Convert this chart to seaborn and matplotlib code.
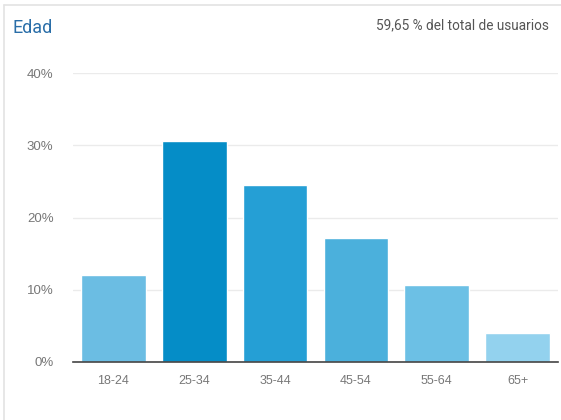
import matplotlib
matplotlib.use('Agg')
import matplotlib.pyplot as plt
import seaborn as sns
import pandas as pd
from matplotlib.lines import Line2D

# Datos: distribución por edad
edades = ['18-24', '25-34', '35-44', '45-54', '55-64', '65+']
porcentajes = [12.0, 30.6, 24.5, 17.2, 10.7, 4.0]
colores = ['#6bbde3', '#058dc7', '#259fd5', '#4bb0dc', '#6cc0e5', '#93d2ee']
ticks_y = [0, 10, 20, 30, 40]

dados = pd.DataFrame({'Edad': edades, 'Porcentaje': porcentajes})

sns.set_style('white')
plt.rcParams['font.family'] = ['Liberation Sans', 'DejaVu Sans']

fig = plt.figure(figsize=(5.61, 4.2), dpi=100)
ax = fig.add_axes([73 / 561, 1 - 362 / 420, 485 / 561, (362 - 73) / 420])

sns.barplot(data=dados, x='Edad', y='Porcentaje', hue='Edad', palette=colores,
            legend=False, width=0.8, saturation=1, ax=ax, zorder=3)

ax.set_ylim(0, 40)
ax.set_xlim(-0.5, 5.5)
ax.set_yticks(ticks_y)
ax.set_yticklabels([f'{t}%' for t in ticks_y])
ax.set_xlabel('')
ax.set_ylabel('')
ax.yaxis.grid(True, color='#ebebeb', linewidth=1, zorder=0)
ax.set_axisbelow(True)
for lado in ['top', 'right', 'left']:
    ax.spines[lado].set_visible(False)
ax.spines['bottom'].set_color('#444444')
ax.spines['bottom'].set_linewidth(1.2)
ax.spines['bottom'].set_zorder(4)
ax.tick_params(axis='y', length=0, pad=14, labelsize=9.5, labelcolor='#777777')
ax.tick_params(axis='x', length=0, pad=9, labelsize=9, labelcolor='#777777')

# Marco de la tarjeta
fig.add_artist(Line2D([4 / 561, 4 / 561], [0, 1 - 5 / 420], color='#e3e3e3', linewidth=1.2))
fig.add_artist(Line2D([4 / 561, 1], [1 - 5 / 420, 1 - 5 / 420], color='#e3e3e3', linewidth=1.2))

fig.text(13 / 561, 1 - 28 / 420, 'Edad', fontsize=13, color='#2a6ea8',
         family=['Roboto', 'DejaVu Sans'], va='center', ha='left')
fig.text(549 / 561, 1 - 25 / 420, '59,65 % del total de usuarios', fontsize=9.8,
         color='#555555', family=['Roboto', 'DejaVu Sans'], va='center', ha='right')

fig.savefig('out.png', dpi=100)
